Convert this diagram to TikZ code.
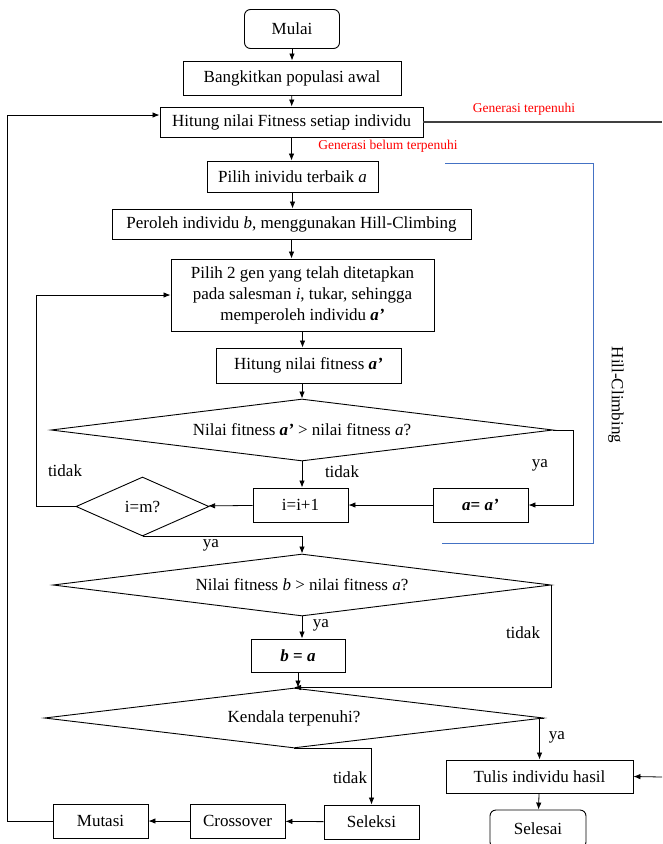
\documentclass[tikz,border=0pt]{standalone}
\usepackage{fontspec}
\setmainfont{Liberation Serif}
\usepackage{xcolor}
\usetikzlibrary{arrows.meta,shapes.geometric,positioning}
\definecolor{biru}{RGB}{68,114,196}

\begin{document}
\begin{tikzpicture}[x=1pt,y=-1pt,font=\fontsize{17}{21}\selectfont,
  kotak/.style={draw,line width=0.9pt,inner sep=0pt,align=center,minimum height=34pt},
  ujung/.style={kotak,rounded corners=6pt},
  cek/.style={draw,line width=0.9pt,diamond,inner sep=0pt,aspect=#1},
  panah/.style={-{Latex[length=7pt,width=5.5pt]},line width=0.8pt},
  merah/.style={text=red,font=\fontsize{13.5}{16}\selectfont}]
\clip (0,0) rectangle (662,844);
\node[ujung,minimum width=95pt,minimum height=39pt] (Mulai) at (292,29) {Mulai};
\node[kotak,minimum width=218pt] (Bangkit) at (292,78) {Bangkitkan populasi awal};
\node[kotak,minimum width=263pt,minimum height=30pt] (Hitung) at (291.5,122) {Hitung nilai Fitness setiap individu};
\node[kotak,minimum width=171pt,minimum height=31pt] (Terbaik) at (292.5,176.5) {Pilih inividu terbaik \textit{a}};
\node[kotak,minimum width=359pt,minimum height=30pt] (Peroleh) at (291.5,224) {Peroleh individu \textit{b}, menggunakan Hill-Climbing};
\node[kotak,minimum width=263pt,minimum height=72pt] (Tukar) at (302.5,295) {Pilih 2 gen yang telah ditetapkan\\pada salesman \textit{i}, tukar, sehingga\\memperoleh individu \textbf{\textit{a’}}};
\node[kotak,minimum width=185pt,minimum height=35pt] (HitA) at (308.5,365.5) {Hitung nilai fitness \textbf{\textit{a’}}};
\node[cek=8,minimum width=502pt,minimum height=62pt] (Cek1) at (302,430) {Nilai fitness \textbf{\textit{a’}} > nilai fitness \textit{a}?};
\node[kotak,minimum width=95pt] (Inc) at (300.5,505) {i=i+1};
\node[kotak,minimum width=95pt] (Ganti) at (480.5,505) {\textbf{\textit{a}= \textit{a’}}};
\node[cek=2.2,minimum width=133pt,minimum height=59pt] (CekI) at (142.5,506.5) {i=m?};
\node[cek=8,minimum width=498pt,minimum height=62pt] (Cek2) at (302,585) {Nilai fitness \textit{b} > nilai fitness \textit{a}?};
\node[kotak,minimum width=94pt,minimum height=33pt] (Simpan) at (298,655.5) {\textbf{\textit{b} = \textit{a}}};
\node[cek=8,minimum width=499pt,minimum height=60pt] (Kendala) at (294,718) {Kendala terpenuhi?};
\node[kotak,minimum width=187pt,minimum height=33pt] (Tulis) at (539.5,776.5) {Tulis individu hasil};
\node[ujung,minimum width=96pt,minimum height=38pt] (Selesai) at (538,829) {Selesai};
\node[kotak,minimum width=95pt] (Seleksi) at (371.5,822) {Seleksi};
\node[kotak,minimum width=95pt] (Cross) at (237.5,821) {Crossover};
\node[kotak,minimum width=95pt] (Mutasi) at (100.5,821) {Mutasi};
\coordinate (Kanan1) at (662,122);
\coordinate (Kanan2) at (662,777);

\draw[panah] (Mulai) -- (Bangkit);
\draw[panah] (Bangkit) -- (Hitung);
\draw[panah] (Hitung.south) -- (Hitung.south |- Terbaik.north);
\draw[panah] (Terbaik.south) -- (Terbaik.south |- Peroleh.north);
\draw[panah] (Peroleh.south) -- (Peroleh.south |- Tukar.north);
\draw[panah] (Tukar.south) -- (Tukar.south |- HitA.north);
\draw[panah] (Cek1.north |- HitA.south) -- (Cek1.north);
\draw[panah] (Cek1.east) -- ++(20,0) |- (Ganti.east);
\draw[panah] (Cek1.south) -- (Cek1.south |- Inc.north);
\draw[panah] (Ganti) -- (Inc);
\draw[panah] (Inc) -- (CekI);
\draw[panah] (CekI.west) -- ++(-39,0) |- (Tukar.west);
\draw[panah] (CekI.south) -| (Cek2.north);
\draw[panah] (Cek2.south) -- (Cek2.south |- Simpan.north);
\draw[panah] (Cek2.east) |- (Kendala.north);
\draw[panah] (Simpan.south) -- (Simpan.south |- Kendala.north);
\draw[panah] (Kendala.east) -| (Tulis.north);
\draw[panah] (Kendala.south) -| (Seleksi.north);
\draw[panah] (Seleksi) -- (Cross);
\draw[panah] (Cross) -- (Mutasi);
\draw[panah] (Mutasi.west) -- ++(-45,0) |- ([yshift=7pt]Hitung.west);
\draw[panah] (Tulis) -- (Selesai);
\draw[line width=2pt,black!75] (Hitung.east) -- (Kanan1);
\draw[panah] (Kanan2) -- (Tulis.east);
\draw[biru,line width=0.9pt] (445,163) -- (593,163) -- (593,543) -- (442,543);

\node[merah] (GenA) at (524,109) {Generasi terpenuhi};
\node[merah] (GenB) at (388,146) {Generasi belum terpenuhi};
\node[rotate=-90] (HC) at (616,395) {Hill-Climbing};
\node (ya1) at (540,465) {ya};
\node (td1) at (342,472) {tidak};
\node (td2) at (65,471) {tidak};
\node (ya2) at (211,545) {ya};
\node (ya3) at (321,625) {ya};
\node (td3) at (523,633) {tidak};
\node (ya4) at (557,737) {ya};
\node (td4) at (350,778) {tidak};
\end{tikzpicture}
\end{document}
